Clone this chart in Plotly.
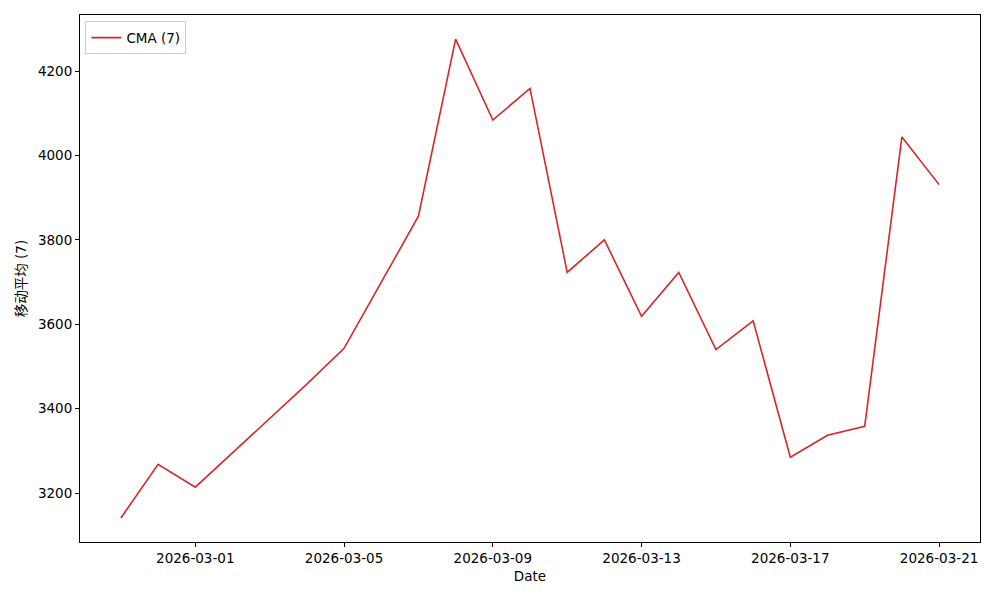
import plotly.graph_objects as go

dates = ["2026-02-27", "2026-02-28", "2026-03-01", "2026-03-04", "2026-03-05",
         "2026-03-07", "2026-03-08", "2026-03-09", "2026-03-10", "2026-03-11",
         "2026-03-12", "2026-03-13", "2026-03-14", "2026-03-15", "2026-03-16",
         "2026-03-17", "2026-03-18", "2026-03-19", "2026-03-20", "2026-03-21"]
cma_values = [3141, 3268, 3214, 3458, 3543,
              3856, 4276, 4084, 4159, 3723,
              3800, 3619, 3723, 3540, 3608,
              3285, 3337, 3358, 4044, 3931]
x_ticks = ["2026-03-01", "2026-03-05", "2026-03-09", "2026-03-13", "2026-03-17", "2026-03-21"]
y_ticks = [3200, 3400, 3600, 3800, 4000, 4200]

font_family = "DejaVu Sans, Noto Sans CJK SC, sans-serif"
fs = 13.5

fig = go.Figure()
fig.add_trace(go.Scatter(
    x=dates, y=cma_values, mode="lines", name="CMA (7)",
    line=dict(color="#d62728", width=1.6),
))

fig.update_layout(
    width=992, height=592,
    margin=dict(l=72, r=20, t=7, b=58),
    plot_bgcolor="white", paper_bgcolor="white",
    font=dict(family=font_family, size=fs, color="black"),
    showlegend=True,
    legend=dict(x=0.006, y=0.988, xanchor="left", yanchor="top",
                bgcolor="rgba(255,255,255,0.8)", bordercolor="#cccccc", borderwidth=1,
                font=dict(size=fs)),
    xaxis=dict(
        title=dict(text="Date", standoff=6, font=dict(size=fs)),
        type="date",
        range=["2026-02-25 21:36", "2026-03-22 02:24"],
        tickvals=x_ticks, ticktext=x_ticks,
        tickfont=dict(size=fs),
        ticks="outside", ticklen=4, tickcolor="black",
        showgrid=False, zeroline=False,
        showline=True, linecolor="black", linewidth=1, mirror=True,
    ),
    yaxis=dict(
        title=dict(text="移动平均 (7)", standoff=8, font=dict(size=fs)),
        range=[3084, 4333],
        tickvals=y_ticks,
        tickfont=dict(size=fs),
        ticks="outside", ticklen=4, tickcolor="black",
        showgrid=False, zeroline=False,
        showline=True, linecolor="black", linewidth=1, mirror=True,
    ),
)

fig.write_html("out.html")
